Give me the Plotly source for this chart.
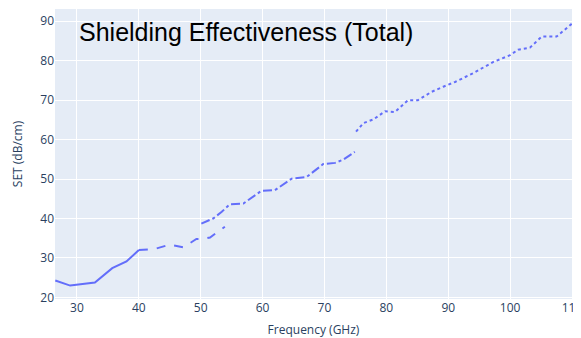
import plotly.graph_objects as go

# Segment 1 (solid)
f1 = [26.5, 28.9, 32.9, 35.7, 38.0, 40.0]
s1 = [24.3, 23.0, 23.8, 27.4, 29.1, 32.0]
# Segment 2 (dash)
f2 = [40.0, 40.7, 42.6, 45.0, 47.2, 49.3, 50.4, 51.5, 53.9]
s2 = [32.0, 32.1, 32.3, 33.4, 32.7, 34.8, 34.8, 35.2, 37.9]
# Segment 3 (dashdot)
f3 = [50.1, 52.0, 53.4, 54.7, 56.9, 59.8, 62.0, 64.7, 67.1, 69.8, 71.7, 73.0, 74.9]
s3 = [38.7, 40.0, 41.7, 43.6, 43.8, 47.0, 47.2, 50.1, 50.5, 53.8, 54.1, 54.9, 56.9]
# Segment 4 (dot)
f4 = [75.1, 76.3, 77.9, 79.8, 81.4, 83.5, 85.1, 87.3, 89.2, 91.1, 93.2, 94.0, 97.3,
      100.0, 101.3, 103.2, 105.1, 107.5, 110.0]
s4 = [62.0, 64.2, 65.1, 67.2, 67.0, 70.0, 70.0, 72.1, 73.4, 74.6, 76.2, 76.8, 79.7,
      81.4, 82.8, 83.3, 86.1, 86.1, 89.4]

color = "#636efa"
fig = go.Figure()
for fx, sy, dash in [(f1, s1, "solid"), (f2, s2, "dash"), (f3, s3, "dashdot"), (f4, s4, "dot")]:
    fig.add_trace(go.Scatter(x=fx, y=sy, mode="lines", line=dict(color=color, width=2, dash=dash),
                             showlegend=False))

fig.update_layout(
    width=603, height=330,
    margin=dict(l=47, r=39, t=1, b=39),
    template="plotly",
    showlegend=False,
    annotations=[dict(text="Shielding Effectiveness (Total)", xref="paper", yref="paper",
                      x=0.043, y=0.975, xanchor="left", yanchor="top", showarrow=False,
                      font=dict(family="Liberation Sans, Arial", size=25, color="black"))],
)
fig.update_xaxes(range=[26.45, 110], dtick=10, automargin=False, tickfont=dict(size=12),
                 title=dict(text="Frequency (GHz)", font=dict(size=12)))
fig.update_yaxes(range=[19.6, 93.1], dtick=10, automargin=False, tickfont=dict(size=12),
                 title=dict(text="SET (dB/cm)", font=dict(size=12)))

fig.write_html("out.html")
